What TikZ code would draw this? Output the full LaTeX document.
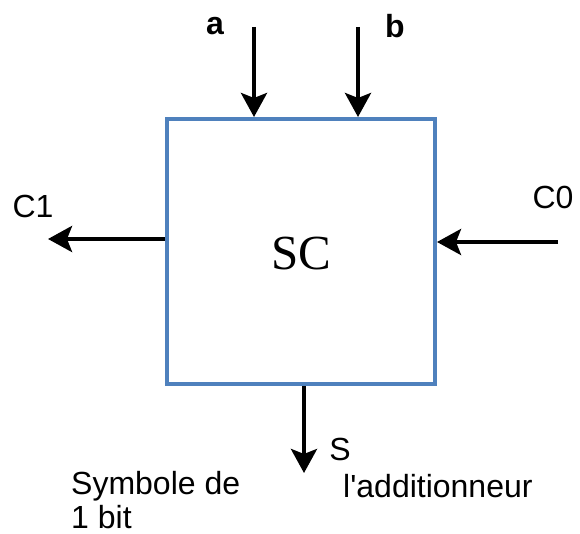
\documentclass[tikz,border=0pt]{standalone}
\usepackage{fontspec}
\setmainfont{Liberation Sans}
\newfontfamily\serifsc{Liberation Serif}
\usetikzlibrary{arrows.meta}
\definecolor{boxblue}{HTML}{4F81BD}
\begin{document}
\begin{tikzpicture}[x=1pt,y=-1pt,
  sig/.style={line width=4pt,-{Stealth[length=24pt,width=26pt,inset=5pt]}},
  lab/.style={inner sep=0pt,font=\fontsize{32}{38}\selectfont},
  blab/.style={lab,font=\fontsize{32}{38}\selectfont\bfseries}]
\useasboundingbox (0,0) rectangle (580,534);
\node[draw=boxblue,line width=4pt,minimum width=268pt,minimum height=265pt,inner sep=0pt] (sc) at (301,251.5) {};
\node[font=\fontsize{49}{52}\selectfont\serifsc] (sclab) at (301,254) {SC};
\coordinate (ta) at (254,27);
\coordinate (tb) at (358,27);
\coordinate (c1) at (48,239);
\coordinate (c0) at (558,242);
\coordinate (s) at (304,473);
\draw[sig] (ta) -- (ta |- sc.north);
\draw[sig] (tb) -- (tb |- sc.north);
\draw[sig] (sc.west |- c1) -- (c1);
\draw[sig] (c0) -- (sc.east |- c0);
\draw[sig] (s |- sc.south) -- (s);
\node[blab] (la) at (215,26) {a};
\node[blab] (lb) at (395,26) {b};
\node[lab] (lc1) at (33,206) {C1};
\node[lab] (lc0) at (553,197) {C0};
\node[lab] (ls) at (340,449) {S};
\node[lab,anchor=west] (l1) at (71,486) {Symbole de};
\node[lab,anchor=west] (l2) at (71,517) {1 bit};
\node[lab,anchor=west] (l3) at (343,486) {l\textquotesingle additionneur};
\end{tikzpicture}
\end{document}
